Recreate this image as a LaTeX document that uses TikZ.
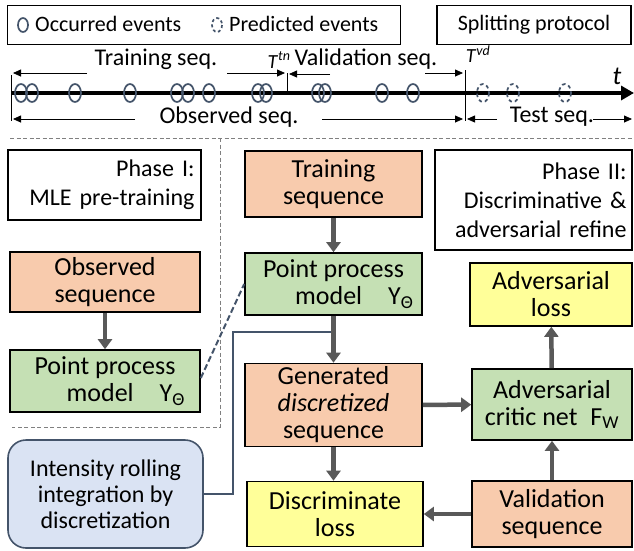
\documentclass[tikz,border=0pt]{standalone}
\usepackage{fontspec}
\setmainfont{Carlito}
\usetikzlibrary{arrows.meta}
\definecolor{seqorange}{HTML}{F8CBAD}
\definecolor{modelgreen}{HTML}{C5E0B4}
\definecolor{lossyellow}{HTML}{FFFF99}
\definecolor{intblue}{HTML}{DAE3F3}
\definecolor{slate}{HTML}{44546A}
\definecolor{flowgray}{HTML}{595959}
\tikzset{
  blk/.style={draw=black, line width=1.6pt, align=center, inner sep=0pt,
    font=\fontsize{26}{27}\selectfont},
  seqbox/.style={blk, fill=seqorange},
  modelbox/.style={blk, fill=modelgreen},
  lossbox/.style={blk, fill=lossyellow},
  phasebox/.style={draw=black, line width=1.6pt, align=right, inner sep=0pt,
    font=\fontsize{24}{29}\selectfont},
  flow/.style={draw=flowgray, line width=4.5pt, -{Triangle[width=14pt,length=10pt]}},
  span/.style={line width=0.8pt, -{Triangle[width=7pt,length=8pt]}},
  evt/.style={draw=slate, line width=1.7pt},
  lbl/.style={font=\fontsize{24}{24}\selectfont, inner sep=0pt},
}
\begin{document}
\begin{tikzpicture}[x=1pt,y=-1pt]
    \useasboundingbox (0,0) rectangle (634,550);
    % legend and protocol title
    \node[draw, line width=1.6pt, minimum width=393pt, minimum height=39pt, inner sep=0pt] (legend) at (204,25) {};
    \draw[evt] (23,25) ellipse (5 and 7);
    \node[lbl, font=\fontsize{22}{22}\selectfont, anchor=west] (occ) at (35,24) {Occurred events};
    \draw[evt, dashed, dash pattern=on 3pt off 2.5pt] (217,25) ellipse (5 and 7);
    \node[lbl, font=\fontsize{22}{22}\selectfont, anchor=west] (pred) at (229,24) {Predicted events};
    \node[draw, line width=1.6pt, minimum width=194pt, minimum height=39pt, inner sep=0pt,
          font=\fontsize{22}{22}\selectfont] (proto) at (534,25) {Splitting protocol};
    % time axis
    \coordinate (t0) at (11,93);
    \coordinate (tend) at (634,93);
    \draw[line width=4.5pt, -{Triangle[width=14pt,length=13pt]}] (t0) -- (tend);
    \node[lbl, font=\fontsize{26}{26}\selectfont\itshape] (tlab) at (617,76) {t};
    \draw[line width=0.8pt] (11,75) -- (11,121);
    \draw[line width=0.8pt] (287,73) -- (287,93);
    \draw[line width=0.8pt] (465,70) -- (465,121);
    \node[lbl, font=\fontsize{20}{20}\selectfont] (ttn) at (279,60) {\textit{T}\textsuperscript{\textit{tn}}};
    \node[lbl, font=\fontsize{20}{20}\selectfont] (tvd) at (478,54) {\textit{T}\textsuperscript{\textit{vd}}};
    \foreach \ex in {21,32,75,130,177,188,209,258,266,318,325,382,413}
      \draw[evt] (\ex,93) ellipse (6 and 9);
    \foreach \ex in {483,513,565}
      \draw[evt, dashed, dash pattern=on 3.5pt off 3pt] (\ex,93) ellipse (6 and 9);
    % spans
    \node[lbl] (trainspan) at (156,59) {Training seq.};
    \node[lbl] (valspan) at (366,59) {Validation seq.};
    \node[lbl] (obsspan) at (229,117) {Observed seq.};
    \node[lbl] (testspan) at (552,117) {Test seq.};
    \draw[span] (87,73) -- (13,73);
    \draw[span] (227,73) -- (285,73);
    \draw[span] (330,74) -- (289,74);
    \draw[span] (425,73) -- (463,73);
    \draw[span] (135,119) -- (13,119);
    \draw[span] (322,119) -- (463,119);
    \draw[span] (497,119) -- (467,119);
    \draw[span] (593,119) -- (632,119);
    % phase I frame
    \draw[gray, line width=0.9pt, dashed, dash pattern=on 4pt off 2.5pt] (10,138) -- (632,138);
    \draw[gray, line width=0.9pt, dashed, dash pattern=on 4pt off 2.5pt] (220,138) -- (220,427) -- (12,427);
    % phase I
    \node[phasebox, minimum width=193pt, minimum height=70pt, text width=180pt] (ph1) at (104.5,185) {Phase I:\\MLE pre-training};
    \node[seqbox, minimum width=190pt, minimum height=60pt] (obs) at (105,282) {Observed\\sequence};
    \node[modelbox, minimum width=190pt, minimum height=62pt] (ppl) at (105,381)
      {Point process\\\hspace*{1.6em}model\quad Υ\textsubscript{Θ}};
    \draw[flow] (obs) -- (ppl);
    % phase II
    \node[phasebox, minimum width=197pt, minimum height=100pt, text width=186pt] (ph2) at (533.5,200)
      {Phase II:\\Discriminative \&\\adversarial refine};
    \node[seqbox, minimum width=177pt, minimum height=66pt] (train) at (333.5,184) {Training\\sequence};
    \node[modelbox, minimum width=177pt, minimum height=62pt] (ppm) at (333.5,284)
      {Point process\\\hspace*{1.6em}model\quad Υ\textsubscript{Θ}};
    \node[seqbox, minimum width=177pt, minimum height=83pt] (gen) at (333.5,405)
      {Generated\\\textit{discretized}\\sequence};
    \node[lossbox, minimum width=176pt, minimum height=65pt] (disc) at (335,514) {Discriminate\\loss};
    \node[lossbox, minimum width=162pt, minimum height=63pt] (advloss) at (551,294.5) {Adversarial\\loss};
    \node[modelbox, minimum width=160pt, minimum height=71pt] (critic) at (552,404.5)
      {Adversarial\\critic net\enspace F\textsubscript{W}};
    \node[seqbox, minimum width=160pt, minimum height=66pt] (val) at (552,514) {Validation\\sequence};
    \node[draw=slate, line width=1.6pt, fill=intblue, rounded corners=18pt, align=center,
          minimum width=195pt, minimum height=108pt, inner sep=0pt,
          font=\fontsize{24}{26}\selectfont] (intens) at (105.5,494) {Intensity rolling\\integration by\\discretization};
    % connectors
    \draw[slate, line width=2pt, dashed, dash pattern=on 6pt off 3pt] (ppl.east) ++(0,-3) -- (ppm.west);
    \draw[slate, line width=2pt] (intens.east) -| (233,332) -- (333,332);
    \draw[flow] (train) -- (ppm);
    \draw[flow] (ppm) -- (gen);
    \draw[flow] (gen) -- (disc.north -| gen.south);
    \draw[flow] (gen) -- (critic);
    \draw[flow] (critic) -- (advloss);
    \draw[flow] (val) -- (critic);
    \draw[flow] (val) -- (disc);
\end{tikzpicture}
\end{document}
